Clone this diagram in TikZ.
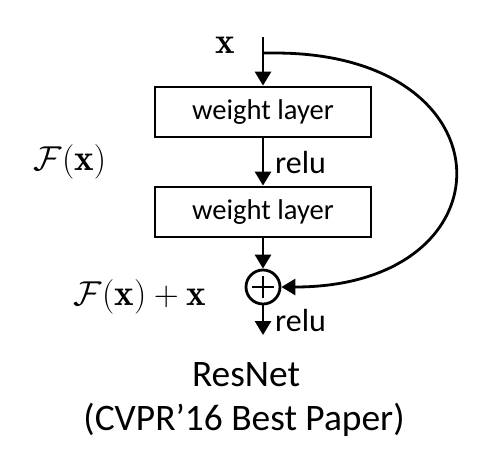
\documentclass[tikz,border=0pt]{standalone}
\usepackage{amsmath}
\usepackage{fontspec}
\newfontfamily\calibri{Carlito}
\usetikzlibrary{positioning}
\usetikzlibrary{arrows.meta}
\tikzset{
    x=0.5pt, y=-0.5pt,
    every path/.append style={
        line width=1.4pt
    },
    layer/.style={
        draw,
        minimum width=108pt,
        minimum height=25pt,
        inner sep=0pt,
        font=\calibri\fontsize{14.3}{16}\selectfont
    },
    relutext/.style={
        font=\calibri\fontsize{16}{18}\selectfont
    },
    flow/.style={
        -{Triangle[length=7pt,width=8pt]}
    },
    mathlabel/.style={
        font=\fontsize{18.5}{21}\selectfont
    },
    caption/.style={
        font=\calibri\fontsize{18.7}{22}\selectfont
    }
}

\begin{document}
\begin{tikzpicture}
                \useasboundingbox (0,0) rectangle (497,463);

                \coordinate (in) at (263,37);
                \coordinate (split) at (263,53);
                \node[mathlabel] (xin) at (225,45) {$\mathbf{x}$};

                \node[layer] (wl1) at (263,112) {weight layer};
                \node[layer] (wl2) at (263,212) {weight layer};

                \node[draw, circle, minimum size=17pt, inner sep=0pt] (sum) at (263,287) {};
                \draw (sum.center) ++(0,-11) -- ++(0,22);
                \draw (sum.center) ++(-11,0) -- ++(22,0);
                \coordinate (out) at (263,335);

                \draw[flow] (in) -- (wl1);
                \draw[flow] (wl1) -- node[relutext, right, xshift=2pt] (relu1) {relu} (wl2);
                \draw[flow] (wl2) -- (sum);
                \draw[flow] (sum) -- node[relutext, right, xshift=2pt, pos=0.5] (relu2) {relu} (out);

                \draw[flow] (split) -- (275,53) .. controls (514,53) and (514,287) .. (sum.east);

                \node[mathlabel] (fx) at (70,162) {$\mathcal{F}(\mathbf{x})$};
                \node[mathlabel] (fxx) at (140,297) {$\mathcal{F}(\mathbf{x}) + \mathbf{x}$};

                \node[caption] (title) at (246,375) {ResNet};
                \node[caption] (venue) at (244,420) {(CVPR’16 Best Paper)};
            \end{tikzpicture}
\end{document}
